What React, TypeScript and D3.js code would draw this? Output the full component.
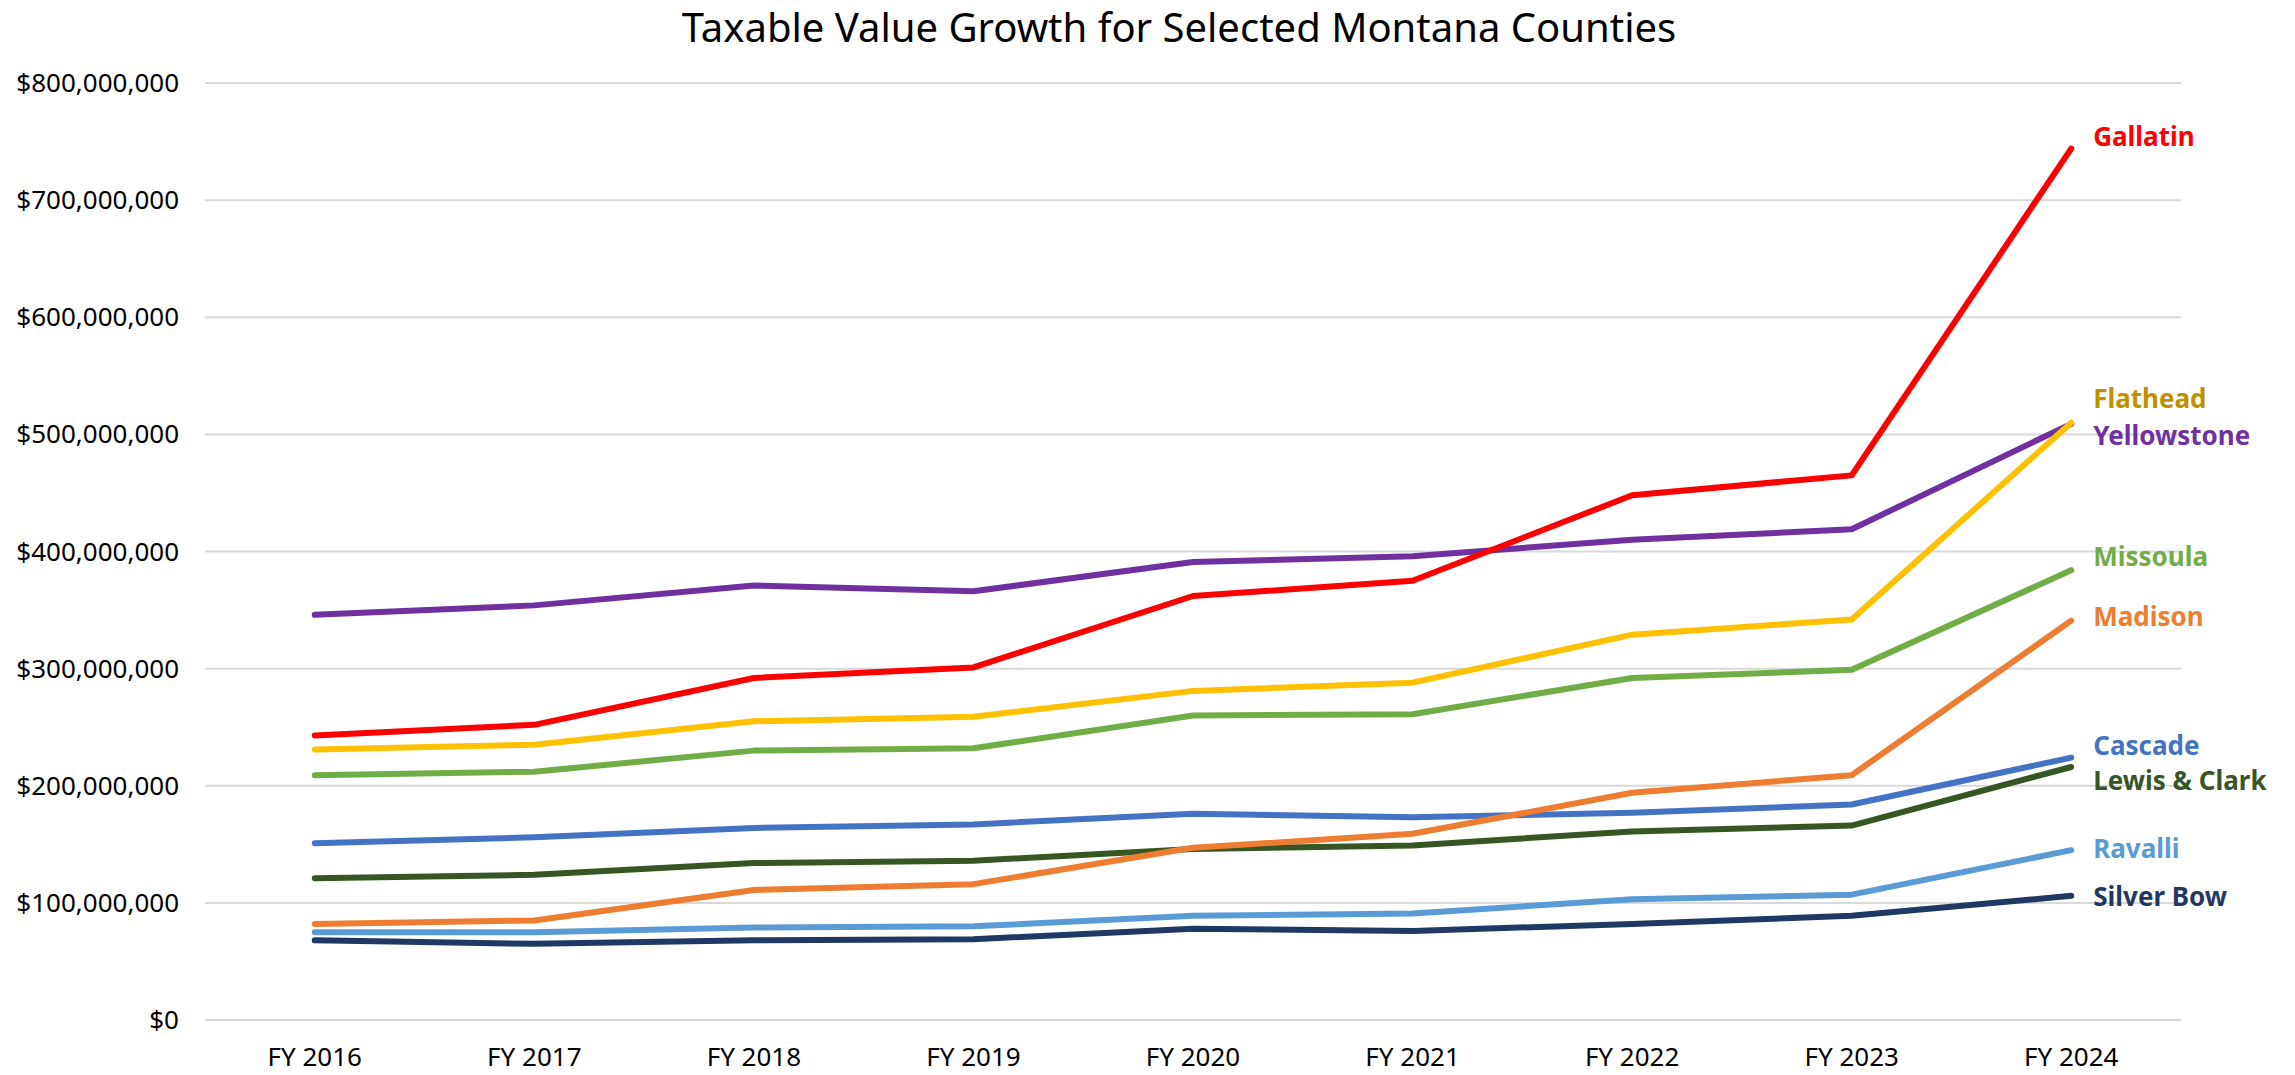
import * as d3 from "d3";
import { useEffect } from "react";

const years = ["FY 2016", "FY 2017", "FY 2018", "FY 2019", "FY 2020", "FY 2021", "FY 2022", "FY 2023", "FY 2024"];
const yTicks = [0, 100e6, 200e6, 300e6, 400e6, 500e6, 600e6, 700e6, 800e6];

const yellowstone = [346e6, 354e6, 371e6, 366e6, 391e6, 396e6, 410e6, 419e6, 509e6];
const cascade = [151e6, 156e6, 164e6, 167e6, 176e6, 173e6, 177e6, 184e6, 224e6];
const lewisClark = [121e6, 124e6, 134e6, 136e6, 146e6, 149e6, 161e6, 166e6, 216e6];
const silverBow = [68e6, 65e6, 68e6, 69e6, 78e6, 76e6, 82e6, 89e6, 106e6];
const ravalli = [75e6, 75e6, 79e6, 80e6, 89e6, 91e6, 103e6, 107e6, 145e6];
const missoula = [209e6, 212e6, 230e6, 232e6, 260e6, 261e6, 292e6, 299e6, 384e6];
const flathead = [231e6, 235e6, 255e6, 259e6, 281e6, 288e6, 329e6, 342e6, 510e6];
const madison = [82e6, 85e6, 111e6, 116e6, 147e6, 159e6, 194e6, 209e6, 341e6];
const gallatin = [243e6, 252e6, 292e6, 301e6, 362e6, 375e6, 448e6, 465e6, 744e6];

// value at which each end label sits
const labelValues = [499e6, 234e6, 204e6, 105e6, 146e6, 395e6, 530e6, 344e6, 754e6];

const series = [
  { name: "Yellowstone", values: yellowstone, color: "#7030A0", text: "#7030A0" },
  { name: "Cascade", values: cascade, color: "#4472C4", text: "#4472C4" },
  { name: "Lewis & Clark", values: lewisClark, color: "#375623", text: "#375623" },
  { name: "Silver Bow", values: silverBow, color: "#1F3864", text: "#1F3864" },
  { name: "Ravalli", values: ravalli, color: "#5B9BD5", text: "#5B9BD5" },
  { name: "Missoula", values: missoula, color: "#70AD47", text: "#70AD47" },
  { name: "Flathead", values: flathead, color: "#FFC000", text: "#BF9000" },
  { name: "Madison", values: madison, color: "#ED7D31", text: "#ED7D31" },
  { name: "Gallatin", values: gallatin, color: "#FF0000", text: "#FF0000" },
];

const width = 2295;
const height = 1075;
const margin = { top: 83, right: 114, bottom: 55, left: 205 };
const font = "'Noto Sans', 'Open Sans', sans-serif";

export default function App() {
  useEffect(() => {
    document.body.style.margin = "0";
  }, []);

  const x = d3.scaleBand().domain(years).range([margin.left, width - margin.right]);
  const y = d3.scaleLinear().domain([0, 800e6]).range([height - margin.bottom, margin.top]);
  const fmt = d3.format("$,.0f");

  const line = d3
    .line<number>()
    .x((_, i) => (x(years[i]) as number) + x.bandwidth() / 2)
    .y((d) => y(d));

  const lastX = (x(years[years.length - 1]) as number) + x.bandwidth() / 2;

  return (
    <svg width={width} height={height} style={{ display: "block", background: "#fff" }}>
      <text x={1179} y={42} textAnchor="middle" fontFamily={font} fontSize={40} fill="#000">
        Taxable Value Growth for Selected Montana Counties
      </text>
      {yTicks.map((t) => (
        <g key={t}>
          <line x1={margin.left} x2={width - margin.right} y1={y(t)} y2={y(t)} stroke="#d9d9d9" strokeWidth={2} />
          <text x={179} y={y(t)} dy="0.35em" textAnchor="end" fontFamily={font} fontSize={26} fill="#000">
            {fmt(t)}
          </text>
        </g>
      ))}
      {years.map((yr) => (
        <text
          key={yr}
          x={(x(yr) as number) + x.bandwidth() / 2}
          y={1057}
          dy="0.35em"
          textAnchor="middle"
          fontFamily={font}
          fontSize={26}
          fill="#000"
        >
          {yr}
        </text>
      ))}
      {series.map((s) => (
        <path
          key={s.name}
          d={line(s.values) as string}
          fill="none"
          stroke={s.color}
          strokeWidth={6}
          strokeLinecap="round"
          strokeLinejoin="round"
        />
      ))}
      {series.map((s, i) => (
        <text
          key={s.name + "-label"}
          x={lastX + 22}
          y={y(labelValues[i])}
          dy="0.35em"
          fontFamily={font}
          fontWeight="bold"
          fontSize={26}
          fill={s.text}
        >
          {s.name}
        </text>
      ))}
    </svg>
  );
}
